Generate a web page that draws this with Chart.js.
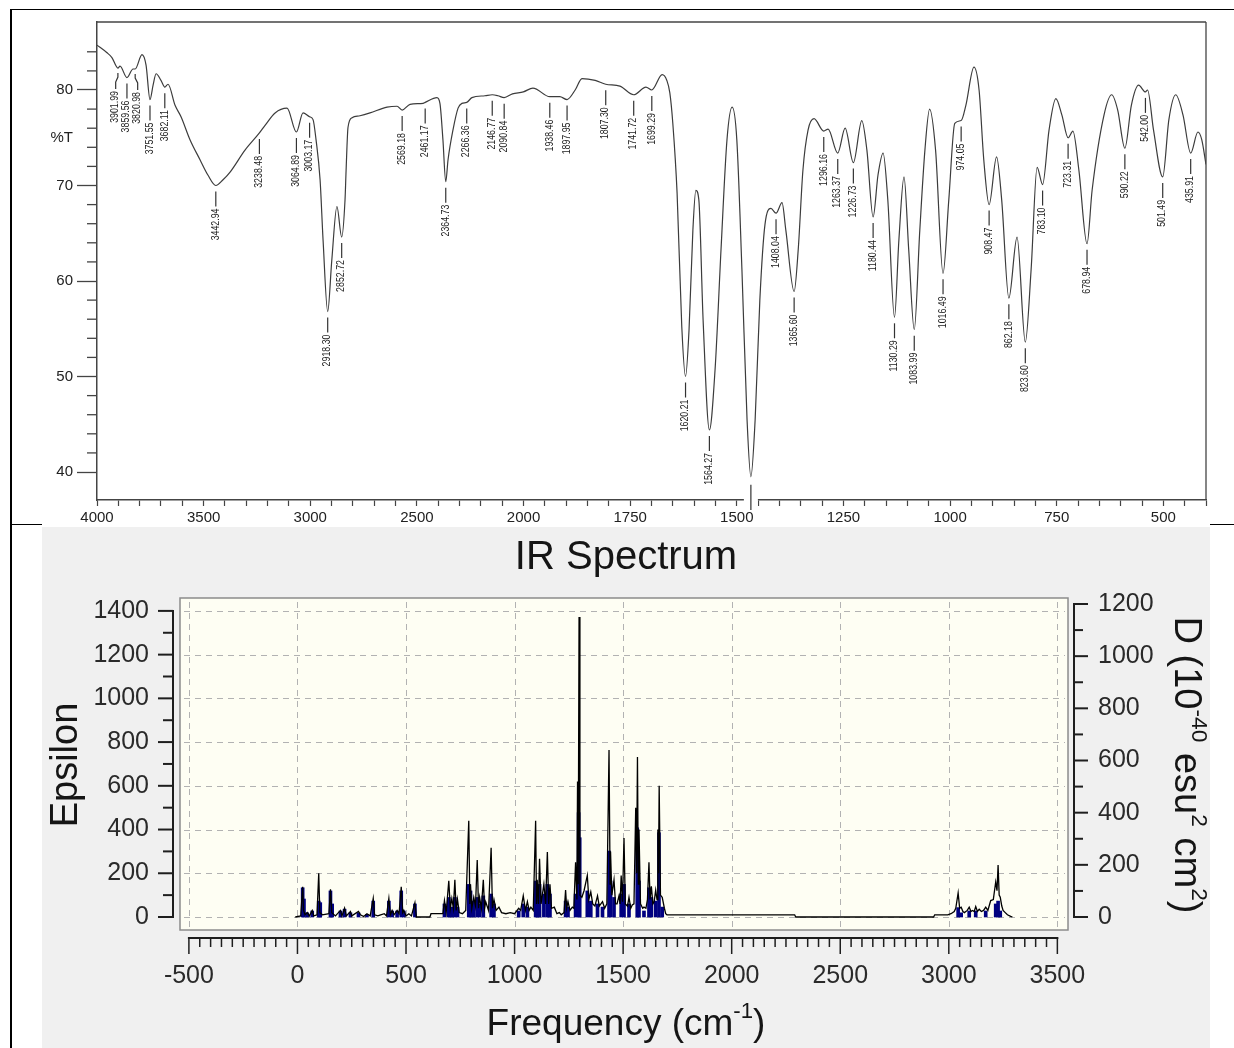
<!DOCTYPE html>
<html>
<head>
<meta charset="utf-8">
<title>IR spectra</title>
<script src="https://cdn.jsdelivr.net/npm/chart.js@4.4.1/dist/chart.umd.min.js"></script>
<style>
  body { margin: 0; background: #fff; }
  #page { position: relative; width: 1234px; height: 1048px; overflow: hidden; }
  #expChart { position: absolute; left: 0; top: 0; }
  #calcChart { position: absolute; left: 42px; top: 527px; background: #f0f0f0; }
  .rule { position: absolute; background: #000; }
</style>
</head>
<body>
<div id="page">
  <canvas id="expChart" width="1234" height="525"></canvas>
  <canvas id="calcChart" width="1168" height="521"></canvas>
  <div class="rule" style="left:10px;top:9px;width:1224px;height:1px"></div>
  <div class="rule" style="left:10px;top:9px;width:2px;height:1039px"></div>
  <div class="rule" style="left:10px;top:524px;width:32px;height:1px"></div>
  <div class="rule" style="left:1210px;top:524px;width:24px;height:1px"></div>
</div>
<script>
// ---- experimental FTIR spectrum (top) ----
const expWavenumber = [
  4000, 3953, 3930, 3901.99, 3892, 3859.56, 3831, 3820.98, 3789, 3770,
  3751.55, 3737, 3723, 3700, 3682.11, 3667, 3634, 3606, 3564, 3517,
  3480, 3442.94, 3409, 3376, 3306, 3238.48, 3212, 3165, 3109, 3064.89,
  3034, 3003.17, 2987, 2973, 2954, 2940, 2918.30, 2899, 2875, 2852.72,
  2837, 2832, 2823, 2804, 2767, 2720, 2640, 2593, 2569.18, 2532,
  2471, 2461.17, 2406, 2392, 2378, 2364.73, 2354, 2331, 2307, 2289,
  2266.36, 2242, 2181, 2146.77, 2120, 2090.84, 2052, 2001, 1978, 1938.46,
  1915, 1897.95, 1879, 1863, 1832, 1807.30, 1774, 1741.72, 1713, 1699.29,
  1675, 1664, 1657, 1650, 1640, 1629, 1620.21, 1612, 1603, 1596,
  1589, 1579, 1564.27, 1551, 1537, 1523, 1511, 1500, 1488, 1476,
  1467, 1457, 1446, 1434, 1420, 1408.04, 1394, 1385, 1365.60, 1356,
  1345, 1333, 1319, 1296.16, 1286, 1263.37, 1246, 1226.73, 1207, 1195,
  1180.44, 1169, 1157, 1146, 1130.29, 1120, 1108, 1097, 1083.99, 1071,
  1059, 1048, 1034, 1016.49, 1003, 989, 974.05, 963, 944, 932,
  921, 908.47, 891, 879, 862.18, 843, 823.60, 810, 796, 783.10,
  768, 752, 738, 723.31, 712, 698, 678.94, 667, 639, 621,
  607, 590.22, 575, 558, 542.00, 537, 523, 501.49, 487, 471,
  454, 435.91, 419, 410, 400
];
const expTransmittance = [
  84.7, 83.9, 83.4, 82.3, 82.5, 81.3, 82.2, 82.2, 83.7, 82.6,
  79.0, 80.5, 81.7, 81.0, 80.3, 80.6, 78.4, 77.2, 74.8, 72.7,
  71.1, 70.0, 70.6, 71.4, 73.7, 75.5, 76.3, 77.6, 78.1, 75.6,
  77.6, 77.2, 76.9, 74.8, 70.6, 64.3, 56.8, 62.2, 67.8, 64.6,
  68.5, 71.6, 76.1, 77.1, 77.3, 77.6, 78.2, 78.3, 77.9, 78.5,
  78.6, 78.7, 79.2, 78.6, 74.8, 70.4, 72.7, 75.8, 78.1, 78.6,
  78.7, 79.2, 79.4, 79.5, 79.4, 79.2, 79.6, 79.8, 80.2, 79.3,
  79.3, 79.0, 80.0, 81.2, 81.0, 80.6, 80.4, 79.5, 80.3, 80.0,
  81.6, 81.0, 79.7, 76.5, 69.2, 55.2, 50.0, 54.9, 65.3, 69.5,
  68.5, 55.9, 44.4, 50.7, 63.3, 74.8, 78.2, 74.8, 61.2, 45.5,
  39.5, 45.5, 58.0, 65.9, 67.6, 67.1, 68.2, 65.3, 58.9, 63.3,
  71.6, 75.8, 77.0, 75.7, 75.9, 73.4, 76.0, 72.4, 76.8, 73.7,
  66.7, 71.1, 73.4, 68.5, 56.2, 64.3, 70.9, 63.3, 54.9, 65.3,
  73.7, 78.0, 73.7, 60.8, 68.5, 76.5, 76.8, 78.4, 82.4, 80.0,
  72.7, 68.0, 73.0, 68.5, 58.2, 64.6, 53.6, 61.2, 71.9, 70.1,
  75.8, 79.1, 77.4, 75.0, 75.7, 71.6, 63.9, 69.5, 77.4, 79.5,
  77.9, 73.9, 78.4, 80.5, 79.8, 80.0, 75.8, 70.9, 76.9, 79.5,
  77.4, 73.4, 75.6, 74.8, 72.2
];
const peakLabels = [
  3901.99, 3859.56, 3820.98, 3751.55, 3682.11, 3442.94, 3238.48, 3064.89, 3003.17, 2918.30,
  2852.72, 2569.18, 2461.17, 2364.73, 2266.36, 2146.77, 2090.84, 1938.46, 1897.95, 1807.30,
  1741.72, 1699.29, 1620.21, 1564.27, 1408.04, 1365.60, 1296.16, 1263.37, 1226.73, 1180.44,
  1130.29, 1083.99, 1016.49, 974.05, 908.47, 862.18, 823.60, 783.10, 723.31, 678.94,
  590.22, 542.00, 501.49, 435.91
];
const unlabelledPeak = 1467; // its label is hidden under the lower picture
const expTickLabels = [4000, 3500, 3000, 2500, 2000, 1750, 1500, 1250, 1000, 750, 500];

// ---- calculated IR spectrum (bottom) ----
const calcFreq = [
  -10, 15, 24, 28, 35, 45, 55, 68, 75, 90,
  98, 103, 115, 145, 152, 158, 175, 198, 205, 217,
  225, 244, 250, 281, 290, 305, 320, 335, 349, 355,
  370, 383, 400, 410, 421, 428, 436, 445, 459, 468,
  478, 485, 490, 500, 513, 525, 541, 548, 610, 615,
  670, 677, 685, 697, 704, 711, 718, 725, 731, 737,
  745, 760, 775, 789, 794, 797, 803, 812, 820, 828,
  834, 839, 847, 856, 862, 867, 880, 892, 898, 905,
  915, 928, 940, 960, 980, 1000, 1019, 1028, 1040, 1050,
  1059, 1067, 1075, 1086, 1097, 1101, 1104, 1110, 1115, 1122,
  1135, 1143, 1151, 1157, 1163, 1170, 1183, 1195, 1206, 1215,
  1221, 1228, 1235, 1240, 1246, 1255, 1266, 1273, 1281, 1287,
  1290, 1293, 1297, 1301, 1310, 1320, 1335, 1342, 1351, 1360,
  1370, 1382, 1390, 1405, 1415, 1425, 1435, 1440, 1442, 1448,
  1458, 1465, 1472, 1481, 1486, 1491, 1497, 1504, 1510, 1520,
  1527, 1535, 1542, 1550, 1558, 1562, 1566, 1570, 1573, 1580,
  1590, 1596, 1605, 1612, 1619, 1624, 1630, 1637, 1643, 1650,
  1656, 1660, 1663, 1666, 1672, 1680, 1690, 1696, 1702, 2290,
  2295, 2930, 2935, 2995, 3010, 3025, 3032, 3043, 3050, 3057,
  3065, 3072, 3085, 3094, 3102, 3109, 3117, 3124, 3132, 3140,
  3150, 3160, 3170, 3180, 3193, 3205, 3216, 3222, 3227, 3232,
  3237, 3244, 3250, 3260, 3270, 3285, 3293
];
const calcEpsilon = [
  0, 5, 138, 30, 10, 20, 5, 30, 5, 10,
  200, 20, 10, 15, 127, 20, 5, 30, 5, 40,
  5, 25, 5, 25, 10, 2, 15, 5, 85, 10,
  5, 10, 15, 5, 85, 10, 30, 10, 30, 15,
  138, 20, 30, 5, 15, 5, 65, 0, 0, 15,
  15, 75, 20, 166, 40, 85, 40, 170, 30, 80,
  20, 15, 30, 440, 60, 150, 40, 90, 50, 261,
  40, 90, 40, 170, 40, 70, 30, 317, 40, 80,
  30, 45, 20, 15, 20, 15, 40, 30, 97, 30,
  70, 30, 45, 30, 440, 60, 170, 60, 266, 60,
  150, 60, 297, 60, 150, 40, 45, 15, 20, 10,
  15, 20, 123, 40, 70, 30, 45, 40, 250, 80,
  620, 150, 1372, 100, 90, 120, 190, 80, 115, 60,
  50, 97, 50, 70, 40, 60, 764, 150, 300, 100,
  170, 60, 60, 97, 60, 190, 70, 361, 60, 50,
  90, 40, 55, 60, 500, 200, 732, 150, 400, 60,
  40, 45, 40, 80, 250, 80, 140, 60, 70, 123,
  80, 400, 200, 600, 100, 90, 40, 15, 10, 10,
  0, 0, 10, 10, 15, 25, 40, 110, 40, 45,
  25, 20, 30, 45, 25, 30, 25, 48, 25, 35,
  25, 30, 45, 30, 75, 80, 160, 120, 238, 100,
  90, 50, 30, 20, 10, 3, 0
];
const stickFreq = [
  24, 30, 45, 68, 98, 105, 152, 160, 198, 217,
  244, 281, 320, 349, 421, 436, 459, 478, 490, 541,
  677, 697, 711, 725, 737, 789, 797, 812, 828, 839,
  856, 892, 905, 1019, 1040, 1059, 1097, 1104, 1115, 1135,
  1151, 1163, 1235, 1246, 1281, 1295, 1300, 1335, 1351, 1382,
  1405, 1435, 1442, 1458, 1491, 1504, 1527, 1565, 1573, 1596,
  1619, 1630, 1650, 1665, 1680, 3043, 3057, 3094, 3124, 3170,
  3216, 3227, 3237
];
const stickD = [
  112, 69, 16, 23, 61, 55, 100, 50, 23, 30,
  16, 16, 10, 61, 61, 23, 23, 100, 23, 50,
  50, 75, 38, 75, 38, 125, 100, 61, 75, 50,
  81, 88, 50, 23, 50, 38, 138, 100, 125, 88,
  125, 88, 61, 38, 88, 400, 304, 100, 61, 50,
  38, 253, 138, 75, 88, 125, 50, 342, 138, 23,
  112, 75, 61, 323, 38, 36, 16, 23, 23, 23,
  50, 61, 23
];
const freqTicks = [-500, 0, 500, 1000, 1500, 2000, 2500, 3000, 3500];
const epsTicks = [0, 200, 400, 600, 800, 1000, 1200, 1400];
const dTicks = [0, 200, 400, 600, 800, 1000, 1200];

const FONT = '"Liberation Sans", Arial, sans-serif';
Chart.defaults.font.family = FONT;

// the recorder doubles the scale below 2000 cm-1
function toPos(w) {
  return w >= 2000 ? (4000 - w) / 500 : 4 + (2000 - w) / 250;
}

function seg(ctx, x1, y1, x2, y2) {
  ctx.beginPath();
  ctx.moveTo(x1, y1);
  ctx.lineTo(x2, y2);
  ctx.stroke();
}

const expDecor = {
  id: 'expDecor',
  afterDatasetsDraw(chart) {
    const { ctx, scales: { x, y } } = chart;
    const items = peakLabels.map(w => {
      const px = x.getPixelForValue(toPos(w));
      return { w, px, lx: px, py: y.getPixelForValue(expTransmittance[expWavenumber.indexOf(w)]) };
    });
    // spread crowded labels sideways
    for (let pass = 0; pass < 40; pass++) {
      for (let i = 1; i < items.length; i++) {
        const d = items[i].lx - items[i - 1].lx;
        if (d < 11) {
          items[i - 1].lx -= (11 - d) / 2;
          items[i].lx += (11 - d) / 2;
        }
      }
    }
    ctx.save();
    ctx.strokeStyle = '#333';
    ctx.fillStyle = '#222';
    ctx.lineWidth = 1.2;
    ctx.font = '10px ' + FONT;
    items.forEach(it => {
      const { px, lx, py } = it;
      if (Math.abs(lx - px) > 0.8) {
        ctx.beginPath();
        ctx.moveTo(px, py + 5);
        ctx.lineTo(px, py + 9);
        ctx.lineTo(lx, py + 14);
        ctx.lineTo(lx, py + 21);
        ctx.stroke();
      } else {
        seg(ctx, px, py + 6, px, py + 21);
      }
      ctx.save();
      ctx.translate(lx, py + 23);
      ctx.rotate(-Math.PI / 2);
      ctx.scale(0.88, 1);
      ctx.textAlign = 'right';
      ctx.textBaseline = 'middle';
      ctx.fillText(it.w.toFixed(2), 0, 0);
      ctx.restore();
    });
    ctx.restore();
  },
  afterDraw(chart) {
    const { ctx, chartArea: a, scales: { x, y } } = chart;
    ctx.save();
    ctx.strokeStyle = '#444';
    ctx.lineWidth = 1.3;
    seg(ctx, a.left, a.top, a.right, a.top);
    seg(ctx, a.right, a.top, a.right, a.bottom);
    // minor y ticks
    y.ticks.forEach(t => {
      if (Math.round(t.value) % 10 !== 0) {
        const py = y.getPixelForValue(t.value);
        seg(ctx, a.left - 10, py, a.left, py);
      }
    });
    // leader of the peak whose label is cut off
    const px = x.getPixelForValue(toPos(unlabelledPeak));
    const i = expWavenumber.indexOf(unlabelledPeak);
    ctx.fillStyle = '#fff';
    ctx.fillRect(px - 7, a.bottom - 3, 14, 12);
    ctx.strokeStyle = '#333';
    ctx.lineWidth = 1.2;
    seg(ctx, px, y.getPixelForValue(expTransmittance[i]) + 8, px, a.bottom + 10);
    // %T caption
    ctx.fillStyle = '#222';
    ctx.font = '15px ' + FONT;
    ctx.textAlign = 'right';
    ctx.textBaseline = 'middle';
    ctx.fillText('%T', 73, y.getPixelForValue(75));
    ctx.restore();
  }
};

new Chart(document.getElementById('expChart'), {
  type: 'line',
  data: {
    datasets: [{
      data: expWavenumber.map((w, i) => ({ x: toPos(w), y: expTransmittance[i] })),
      borderColor: '#3c3c3c',
      borderWidth: 1.2,
      pointRadius: 0,
      cubicInterpolationMode: 'monotone',
      fill: false
    }]
  },
  options: {
    responsive: false,
    animation: false,
    devicePixelRatio: 1,
    layout: { padding: { left: 0, top: 22, right: 28, bottom: 0 } },
    plugins: { legend: { display: false }, tooltip: { enabled: false } },
    scales: {
      x: {
        type: 'linear',
        min: 0,
        max: toPos(400),
        afterFit: s => { s.height = 25; },
        ticks: {
          stepSize: 0.2,
          autoSkip: false,
          maxRotation: 0,
          padding: 3,
          color: '#222',
          font: { size: 15 },
          callback: v => {
            const k = Math.round(v);
            return Math.abs(v - k) < 1e-6 ? String(expTickLabels[k]) : '';
          }
        },
        grid: { drawOnChartArea: false, tickLength: 6, tickColor: '#444', tickWidth: 1.2 },
        border: { color: '#444', width: 1.5 }
      },
      y: {
        min: 37.07,
        max: 87.12,
        afterFit: s => { s.width = 97; },
        afterBuildTicks: s => {
          s.ticks = s.ticks.filter(t => Math.abs(t.value / 2 - Math.round(t.value / 2)) < 1e-6);
        },
        ticks: {
          stepSize: 2,
          autoSkip: false,
          padding: 4,
          color: '#222',
          font: { size: 15 },
          callback: v => (Math.round(v) % 10 === 0 ? String(Math.round(v)) : '')
        },
        grid: {
          drawOnChartArea: false,
          tickLength: 20,
          tickWidth: 1.3,
          tickColor: c => (c.tick && Math.round(c.tick.value) % 10 === 0 ? '#444' : 'rgba(0,0,0,0)')
        },
        border: { color: '#444', width: 1.5 }
      }
    }
  },
  plugins: [expDecor]
});

// ---- bottom chart decorations ----
function drawRich(ctx, parts, size, cx, cy, angle) {
  ctx.save();
  ctx.translate(cx, cy);
  ctx.rotate(angle);
  const supSize = size * 0.6;
  let total = 0;
  parts.forEach(p => {
    ctx.font = (p.sup ? supSize : size) + 'px ' + FONT;
    p.w = ctx.measureText(p.t).width;
    total += p.w;
  });
  let pos = -total / 2;
  ctx.textAlign = 'left';
  ctx.textBaseline = 'middle';
  parts.forEach(p => {
    ctx.font = (p.sup ? supSize : size) + 'px ' + FONT;
    ctx.fillText(p.t, pos, p.sup ? -size * 0.36 : 0);
    pos += p.w;
  });
  ctx.restore();
}

const calcDecor = {
  id: 'calcDecor',
  beforeDatasetsDraw(chart) {
    const { ctx, chartArea: a, scales: { x, y } } = chart;
    ctx.save();
    ctx.fillStyle = '#fefef3';
    ctx.fillRect(a.left, a.top, a.width, a.height);
    ctx.strokeStyle = '#b2b2b2';
    ctx.lineWidth = 1;
    ctx.setLineDash([6, 5]);
    freqTicks.forEach(v => {
      const px = Math.round(x.getPixelForValue(v)) + 0.5;
      seg(ctx, px, a.top + 4, px, a.bottom - 3);
    });
    epsTicks.forEach(v => {
      const py = Math.round(y.getPixelForValue(v)) + 0.5;
      seg(ctx, a.left + 4, py, a.right - 3, py);
    });
    ctx.restore();
  },
  afterDraw(chart) {
    const { ctx, chartArea: a, scales: { x, y, y2 } } = chart;
    ctx.save();
    ctx.strokeStyle = '#8c8c8c';
    ctx.lineWidth = 1.5;
    ctx.strokeRect(a.left, a.top, a.width, a.height);

    ctx.strokeStyle = '#1e1e1e';
    ctx.fillStyle = '#2a2a2a';
    ctx.lineWidth = 2;
    ctx.font = '25px ' + FONT;

    // left epsilon ruler
    const lx = a.left - 7;
    seg(ctx, lx, y.getPixelForValue(0) + 1, lx, y.getPixelForValue(1400) - 1);
    for (let v = 0; v <= 1400; v += 100) {
      const py = y.getPixelForValue(v);
      seg(ctx, lx - (v % 200 === 0 ? 15 : 10), py, lx, py);
    }
    ctx.textAlign = 'right';
    ctx.textBaseline = 'middle';
    epsTicks.forEach(v => ctx.fillText(String(v), lx - 24, y.getPixelForValue(v)));

    // right D ruler
    const rx = a.right + 6;
    seg(ctx, rx, y2.getPixelForValue(0) + 1, rx, y2.getPixelForValue(1200) - 1);
    for (let v = 0; v <= 1200; v += 100) {
      const py = y2.getPixelForValue(v);
      seg(ctx, rx, py, rx + (v % 200 === 0 ? 14 : 9), py);
    }
    ctx.textAlign = 'left';
    dTicks.forEach(v => ctx.fillText(String(v), rx + 24, y2.getPixelForValue(v)));

    // frequency ruler
    const by = a.bottom + 8;
    seg(ctx, x.getPixelForValue(-500) - 1, by, x.getPixelForValue(3500) + 1, by);
    ctx.lineWidth = 1.5;
    for (let v = -500; v <= 3500; v += 50) {
      const px = x.getPixelForValue(v);
      seg(ctx, px, by, px, by + (v % 500 === 0 ? 16 : 9));
    }
    ctx.textAlign = 'center';
    freqTicks.forEach(v => ctx.fillText(String(v), x.getPixelForValue(v), by + 38));

    // titles
    ctx.fillStyle = '#151515';
    ctx.font = '40px ' + FONT;
    ctx.fillText('IR Spectrum', (a.left + a.right) / 2 + 2, 31);
    drawRich(ctx, [{ t: 'Frequency (cm' }, { t: '-1', sup: true }, { t: ')' }], 37, (a.left + a.right) / 2 + 2, 498, 0);
    drawRich(ctx, [{ t: 'Epsilon' }], 38, 25, 238, -Math.PI / 2);
    drawRich(ctx, [{ t: 'D (10' }, { t: '-40', sup: true }, { t: ' esu' }, { t: '2', sup: true },
      { t: ' cm' }, { t: '2', sup: true }, { t: ')' }], 38, 1143, 238, Math.PI / 2);
    ctx.restore();
  }
};

new Chart(document.getElementById('calcChart'), {
  type: 'line',
  data: {
    datasets: [{
      type: 'line',
      data: calcFreq.map((f, i) => ({ x: f, y: calcEpsilon[i] })),
      yAxisID: 'y',
      borderColor: '#000',
      borderWidth: 1.3,
      pointRadius: 0,
      tension: 0,
      fill: false
    }, {
      type: 'bar',
      data: stickFreq.map((f, i) => ({ x: f, y: stickD[i] })),
      yAxisID: 'y2',
      backgroundColor: '#000080',
      barThickness: 3,
      grouped: false
    }]
  },
  options: {
    responsive: false,
    animation: false,
    devicePixelRatio: 1,
    layout: { padding: { left: 138, top: 71, right: 142, bottom: 118 } },
    plugins: { legend: { display: false }, tooltip: { enabled: false } },
    scales: {
      x: { type: 'linear', min: -541, max: 3549, offset: false, display: false },
      y: { type: 'linear', min: -59.5, max: 1459, display: false },
      y2: { type: 'linear', min: -49.8, max: 1223, display: false }
    }
  },
  plugins: [calcDecor]
});
</script>
</body>
</html>
